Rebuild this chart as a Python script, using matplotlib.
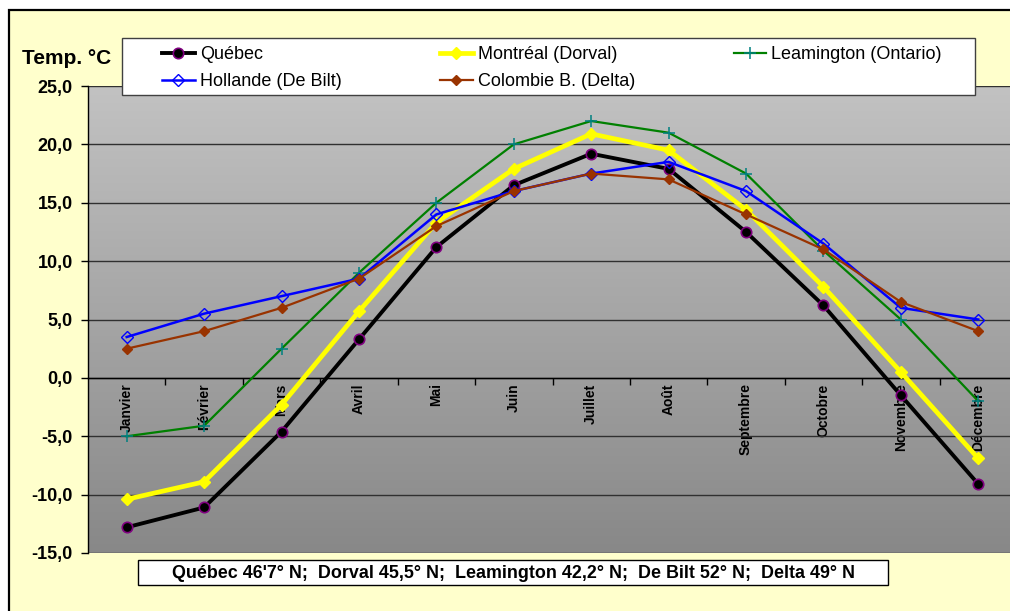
import numpy as np
import matplotlib
matplotlib.use("Agg")
import matplotlib.pyplot as plt
from matplotlib.patches import Rectangle
from matplotlib.colors import LinearSegmentedColormap

plt.rcParams['font.family'] = ['Liberation Sans', 'DejaVu Sans']

# Monthly mean temperatures (°C)
mois = ["Janvier", "Février", "Mars", "Avril", "Mai", "Juin", "Juillet",
        "Août", "Septembre", "Octobre", "Novembre", "Décembre"]
quebec = [-12.8, -11.1, -4.6, 3.3, 11.2, 16.5, 19.2, 17.9, 12.5, 6.2, -1.5, -9.1]
montreal = [-10.4, -8.9, -2.3, 5.7, 13.3, 17.9, 20.9, 19.5, 14.4, 7.8, 0.5, -6.9]
leamington = [-5.0, -4.1, 2.5, 9.0, 15.0, 20.0, 22.0, 21.0, 17.5, 10.9, 5.0, -2.0]
hollande = [3.5, 5.5, 7.0, 8.5, 14.0, 16.0, 17.5, 18.5, 16.0, 11.5, 6.0, 5.0]
delta = [2.5, 4.0, 6.0, 8.5, 13.0, 16.0, 17.5, 17.0, 14.0, 11.0, 6.5, 4.0]
yticks = [-15, -10, -5, 0, 5, 10, 15, 20, 25]
latitudes = "Québec 46'7° N;  Dorval 45,5° N;  Leamington 42,2° N;  De Bilt 52° N;  Delta 49° N"

W, H = 1010, 611
fig = plt.figure(figsize=(W / 100, H / 100), dpi=100, facecolor="white")

# yellow background with black frame
fig.patches.append(Rectangle((9 / W, -0.1), 1.2, (H - 10) / H + 0.1,
                             transform=fig.transFigure, facecolor="#FFFFCC",
                             edgecolor="black", lw=1.6, zorder=-2))

ax = fig.add_axes([88 / W, (H - 553) / H, (1017 - 88) / W, 467 / H])
ax.set_facecolor("none")

# vertical grey gradient in the plot area
grad = LinearSegmentedColormap.from_list("g", ["#888888", "#C2C2C2"])
ax.imshow(np.linspace(0, 1, 256).reshape(-1, 1), cmap=grad, aspect="auto",
          origin="lower", extent=(-0.5, 11.5, -15, 25), zorder=0)

x = np.arange(len(mois))
l1, = ax.plot(x, quebec, color="black", lw=2.8, marker="o", ms=7.5,
              mfc="black", mec="#800080", mew=1.2, label="Québec", zorder=3)
l2, = ax.plot(x, montreal, color="#FFFF00", lw=3.4, marker="D", ms=6.5,
              mfc="#FFFF00", mec="#FFFF00", label="Montréal (Dorval)", zorder=3)
l3, = ax.plot(x, leamington, color="#008000", lw=1.6, marker="+", ms=9,
              mec="#008080", mew=1.1, label="Leamington (Ontario)", zorder=3)
l4, = ax.plot(x, hollande, color="#0000FF", lw=1.8, marker="D", ms=6.5,
              mfc="none", mec="#0000FF", mew=1.0, label="Hollande (De Bilt)", zorder=3)
l5, = ax.plot(x, delta, color="#993300", lw=1.6, marker="D", ms=5.5,
              mfc="#993300", mec="#993300", label="Colombie B. (Delta)", zorder=3)

ax.set_xlim(-0.5, 11.5)
ax.set_ylim(-15, 25)
ax.set_yticks(yticks)
ax.set_yticklabels([f"{v:.1f}".replace(".", ",") for v in yticks],
                   fontsize=13, fontweight="bold")
ax.yaxis.grid(True, color="#303030", lw=1.0, zorder=1)
ax.set_axisbelow(True)
ax.tick_params(axis="y", direction="out", length=5, width=1, pad=6)

ax.spines["top"].set_visible(False)
ax.spines["right"].set_visible(False)
ax.spines["left"].set_linewidth(1.0)
ax.spines["bottom"].set_position(("data", 0))
ax.spines["bottom"].set_linewidth(1.0)

ax.set_xticks(x)
ax.set_xticklabels(mois, rotation=90, fontsize=10, fontweight="bold")
ax.set_xticks(np.arange(0.5, 11.5, 1), minor=True)
ax.tick_params(axis="x", which="major", length=0, pad=4)
ax.tick_params(axis="x", which="minor", direction="out", length=5, width=1)

fig.text(22 / W, 1 - 59 / H, "Temp. °C", fontsize=15, fontweight="bold",
         ha="left", va="center")

# legend box
fig.patches.append(Rectangle((122 / W, 1 - 95 / H), 853 / W, 57 / H,
                             transform=fig.transFigure, facecolor="white",
                             edgecolor="#404040", lw=1.0, zorder=4))
handles = [l1, l4, l2, l5, l3]
leg = fig.legend(handles, [h.get_label() for h in handles],
                 ncol=3, loc="center left", mode="expand",
                 bbox_to_anchor=(162 / W, 1 - 68 / H, (942 - 162) / W, 0),
                 borderaxespad=0, borderpad=0, fontsize=13, frameon=False,
                 handlelength=1.8, handletextpad=0.3, numpoints=1,
                 labelspacing=0.55)
leg.set_zorder(5)

# latitude note under the chart
fig.patches.append(Rectangle((138 / W, 1 - 585 / H), 750 / W, 25 / H,
                             transform=fig.transFigure, facecolor="white",
                             edgecolor="black", lw=1.0, zorder=2))
fig.text(513 / W, 1 - 573 / H, latitudes, fontsize=12.9, fontweight="bold",
         ha="center", va="center", zorder=3)

fig.savefig("out.png", dpi=100, facecolor=fig.get_facecolor())
